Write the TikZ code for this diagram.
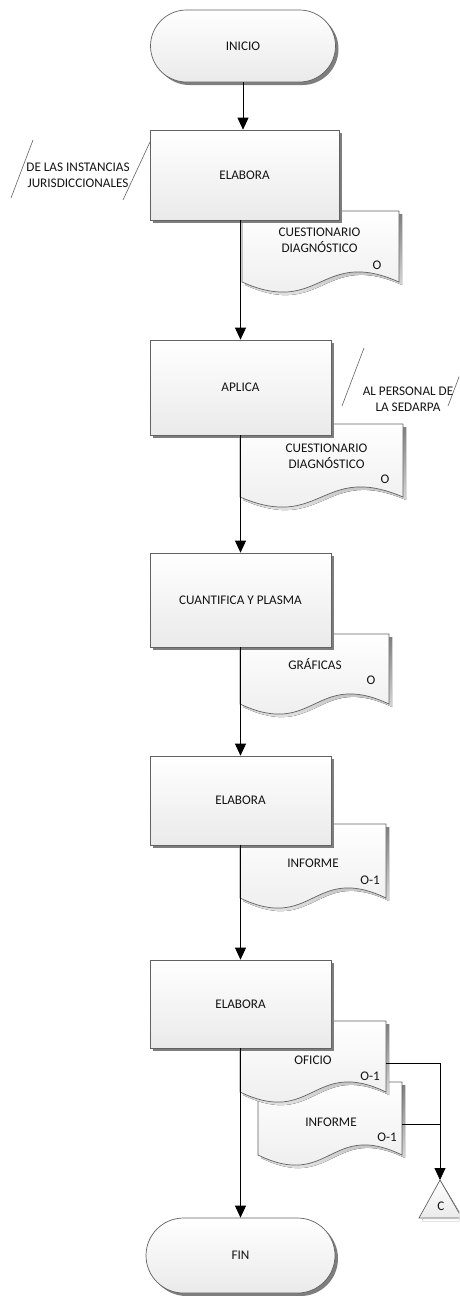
\documentclass[tikz,border=0pt]{standalone}
\usepackage{fontspec}
\setmainfont{Carlito}
\usetikzlibrary{arrows.meta,shapes.misc}

\definecolor{edge}{HTML}{626262}
\definecolor{shade}{HTML}{7E7E7E}
\definecolor{ink}{HTML}{141414}
\definecolor{paperlow}{HTML}{EAEAEA}

\tikzset{
  lbl/.style={text=ink, font=\fontsize{13.2}{15.8}\selectfont, align=center, inner sep=0pt},
  shadowed/.style={preaction={fill=shade, draw=none, transform canvas={shift={(3pt,-3pt)}}}},
  procbox/.style={shadowed, draw=edge, line width=0.7pt, top color=white, bottom color=paperlow,
    text=ink, font=\fontsize{13.2}{15.8}\selectfont, inner sep=0pt},
  termbox/.style={procbox, rounded rectangle, rounded rectangle arc length=180},
  sheet/.style={draw=edge, line width=0.7pt, top color=white, bottom color=paperlow},
  flow/.style={draw=black, line width=0.8pt, -{Triangle[length=12pt,width=11pt]}},
  link/.style={draw=black, line width=0.8pt},
  slant/.style={draw=edge, line width=0.6pt},
}

% document sheet with wavy lower edge: left, top, right, bottom
\newcommand\docsheet[4]{%
  \fill[shade, shift={(3pt,-3pt)}] (#1,#2) -- (#3,#2) -- (#3,#4)
    .. controls ({(#1+#3)/2},{#4-35}) and ({(#1+#3)/2},{#4+35}) .. (#1,#4) -- cycle;
  \path[sheet] (#1,#2) -- (#3,#2) -- (#3,#4)
    .. controls ({(#1+#3)/2},{#4-35}) and ({(#1+#3)/2},{#4+35}) .. (#1,#4) -- cycle;}

\begin{document}
\begin{tikzpicture}[x=1pt, y=-1pt]
\useasboundingbox (0,0) rectangle (459,1296);
\clip (0,0) rectangle (459,1296);

% ---- document sheets (behind the process boxes) ----
\docsheet{242}{211}{399}{282}
\node[lbl] (d1t) at (319.5,240.5) {CUESTIONARIO\\DIAGNÓSTICO};
\node[lbl] (d1c) at (377,265) {O};

\docsheet{240}{424}{403}{497}
\node[lbl] (d2t) at (326.5,456.5) {CUESTIONARIO\\DIAGNÓSTICO};
\node[lbl] (d2c) at (385,479) {O};

\docsheet{240}{634}{389}{704}
\node[lbl] (d3t) at (315,664) {GRÁFICAS};
\node[lbl] (d3c) at (371,680) {O};

\docsheet{240}{824}{386}{898}
\node[lbl] (d4t) at (313,863) {INFORME};
\node[lbl] (d4c) at (370,880) {O-1};

\docsheet{258}{1082}{402}{1155}
\node[lbl] (d6t) at (331,1122) {INFORME};
\node[lbl] (d6c) at (387,1137) {O-1};

\docsheet{240}{1021}{386}{1092}
\node[lbl] (d5t) at (313,1060) {OFICIO};
\node[lbl] (d5c) at (370,1076) {O-1};

% ---- terminals and process boxes ----
\node[termbox, minimum width=185pt, minimum height=72pt] (start) at (243,46) {INICIO};
\node[procbox, minimum width=189pt, minimum height=90pt] (r1) at (244.5,175) {ELABORA};
\node[procbox, minimum width=181pt, minimum height=95pt] (r2) at (240.5,387.5) {APLICA};
\node[procbox, minimum width=181pt, minimum height=94pt] (r3) at (240.5,600) {CUANTIFICA Y PLASMA};
\node[procbox, minimum width=181pt, minimum height=89pt] (r4) at (240.5,800.5) {ELABORA};
\node[procbox, minimum width=181pt, minimum height=88pt] (r5) at (240.5,1004) {ELABORA};
\node[termbox, minimum width=189pt, minimum height=75pt] (fin) at (240.5,1255.5) {FIN};

% ---- off-page connector ----
\coordinate (capex) at (440,1180);
\fill[shade, shift={(3pt,-3pt)}] (capex) -- (462,1218) -- (419,1218) -- cycle;
\path[sheet] (capex) -- (462,1218) -- (419,1218) -- cycle;
\node[lbl] (ctext) at (441,1206) {C};

% ---- annotations ----
\draw[slant] (33,140) -- (11,198);
\draw[slant] (150,142) -- (123,200);
\node[lbl] (note1) at (78,175.5) {DE LAS INSTANCIAS\\JURISDICCIONALES};

\draw[slant] (364,348) -- (342,406);
\draw[slant] (470,348) -- (448,406);
\node[lbl] (note2) at (408,399.5) {AL PERSONAL DE\\LA SEDARPA};

% ---- flow lines ----
\draw[flow] (start.south) -- (start.south |- r1.north);
\draw[flow] (r1.south -| r2.north) -- (r2.north);
\draw[flow] (r2.south) -- (r3.north);
\draw[flow] (r3.south) -- (r4.north);
\draw[flow] (r4.south) -- (r5.north);
\draw[flow] (r5.south) -- (fin.north);

\coordinate (d5e) at (386,1063);
\coordinate (d6e) at (402,1124);
\draw[flow] (d5e) -| (capex);
\draw[link] (d6e) -- (d6e -| capex);
\end{tikzpicture}
\end{document}
